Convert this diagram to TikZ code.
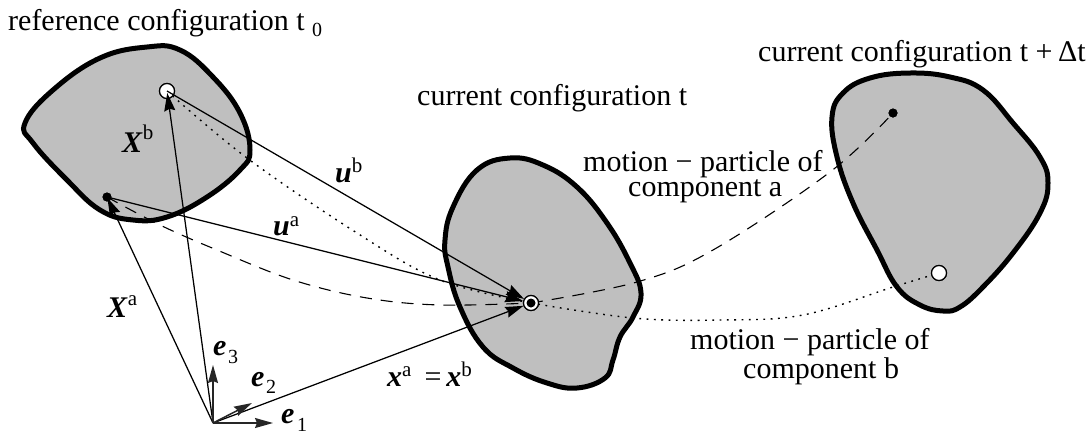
\documentclass[tikz,border=0pt]{standalone}
\usepackage{fontspec}
\setmainfont{Liberation Serif}
\usetikzlibrary{arrows.meta}
\newcommand{\vb}[1]{\textbf{\textit{#1}}}
\newcommand{\sps}[2]{\raisebox{#1}{\fontsize{21}{21}\selectfont #2}}
\tikzset{
  body/.style={fill=black!25,draw=black,line width=5pt,line join=round},
  conn/.style={line width=1.25pt,-{Stealth[length=18pt,width=11pt,inset=2pt]}},
  axis/.style={line width=1.5pt,draw=black!85,fill=black,-{Stealth[length=18pt,width=10pt,inset=2pt]}},
  dashpath/.style={line width=1.1pt,dash pattern=on 12pt off 9pt},
  dotpath/.style={line width=1.4pt,dash pattern=on 1.8pt off 5.5pt},
  whitep/.style={circle,draw=black,fill=white,line width=1.2pt,minimum size=15pt,inner sep=0pt},
  blackp/.style={circle,fill=black,minimum size=9pt,inner sep=0pt},
  lab/.style={inner sep=0pt,font=\fontsize{30}{30}\selectfont,anchor=base west},
  labc/.style={inner sep=0pt,font=\fontsize{30}{23}\selectfont,align=left,anchor=base west},
  sub/.style={inner sep=0pt,font=\fontsize{20}{20}\selectfont,anchor=base west},
}
\begin{document}
\begin{tikzpicture}[x=1pt,y=-1pt]
\useasboundingbox (0,0) rectangle (1090,432);
% bodies
\draw[body] plot[smooth cycle,tension=.7] coordinates {(25,123) (53,90) (100,58) (147,47) (180,50) (213,77) (240,113) (250,150) (240,170) (207,197) (167,217) (133,220) (100,210) (67,180) (33,143)};
\draw[body] plot[smooth cycle,tension=.7] coordinates {(445,240) (453,207) (477,170) (510,158) (543,165) (577,187) (607,223) (630,263) (641,293) (633,317) (620,337) (613,360) (605,378) (577,388) (547,383) (513,368) (483,347) (460,307) (448,267)};
\draw[body] plot[smooth cycle,tension=.7] coordinates {(832,117) (843,93) (870,78) (910,73) (950,77) (983,90) (1013,123) (1040,157) (1048,183) (1040,213) (1013,253) (983,287) (960,307) (943,311) (920,305) (897,287) (877,250) (853,203) (837,157)};
% reference points
\coordinate (o) at (213,423);
\coordinate (e1) at (273,423);
\coordinate (e2) at (252,403);
\coordinate (e3) at (213,365);
\node[whitep] (pb) at (167,91) {};
\node[blackp] (pa) at (107,197) {};
\node[whitep] (c) at (531,303) {};
\node[blackp] (cin) at (531,303) {};
\node[blackp] (qa) at (893,113) {};
\node[whitep] (qb) at (939,273) {};
% motion paths
\draw[dashpath] plot[smooth,tension=.6] coordinates {(pa) (160,225) (217,250) (293,280) (367,298) (440,305) (cin)};
\draw[dashpath] plot[smooth,tension=.6] coordinates {(cin) (637,282) (713,250) (830,172) (qa)};
\draw[dotpath] plot[smooth,tension=.6] coordinates {(pb) (247,158) (357,233) (440,280) (cin)};
\draw[dotpath] plot[smooth,tension=.6] coordinates {(cin) (633,318) (720,320) (803,315) (893,287) (qb)};
% particles under vectors
\node[whitep] at (pb) {};
\node[blackp] at (pa) {};
% vectors
\draw[conn,shorten >=2pt] (o) -- (pb.center);
\draw[conn,shorten >=1pt] (o) -- (pa.center);
\draw[conn] (o) -- (c);
\draw[conn] (pb.center) -- (c);
\draw[conn] (pa.center) -- (c);
\draw[axis] (o) -- (e1);
\draw[axis] (o) -- (e2);
\draw[axis] (o) -- (e3);
\node[whitep] at (c) {};
\node[blackp] at (c) {};
\node[blackp] at (qa) {};
\node[whitep] at (qb) {};
% labels
\node[lab] (l1) at (8,30) {reference configuration t};
\node[sub] (l1s) at (312,36) {0};
\node[lab] (l2) at (417,105) {current configuration t};
\node[lab] (l3) at (758,61) {current configuration t + \kern-2pt Δt};
\node[labc] (l4) at (583,196) {motion − particle of\\\hspace*{45pt}component a};
\node[labc] (l5) at (690,378) {motion − particle of\\\hspace*{53pt}component b};
\node[lab] (xb) at (122,152) {\vb{X}\sps{13pt}{b}};
\node[lab] (xa) at (107,317) {\vb{X}\sps{12pt}{a}};
\node[lab] (ub) at (335,182) {\vb{u}\sps{10pt}{b}};
\node[lab] (ua) at (273,235) {\vb{u}\sps{9pt}{a}};
\node[lab] (xx) at (387,386) {\vb{x}\sps{10pt}{a}\kern13pt=\kern5pt\vb{x}\sps{10pt}{b}};
\node[lab] (le3) at (213,355) {\vb{e}};
\node[sub] (le3s) at (228,363) {3};
\node[lab] (le2) at (251,386) {\vb{e}};
\node[sub] (le2s) at (266,393) {2};
\node[lab] (le1) at (281,423) {\vb{e}};
\node[sub] (le1s) at (297,431) {1};
\end{tikzpicture}
\end{document}
